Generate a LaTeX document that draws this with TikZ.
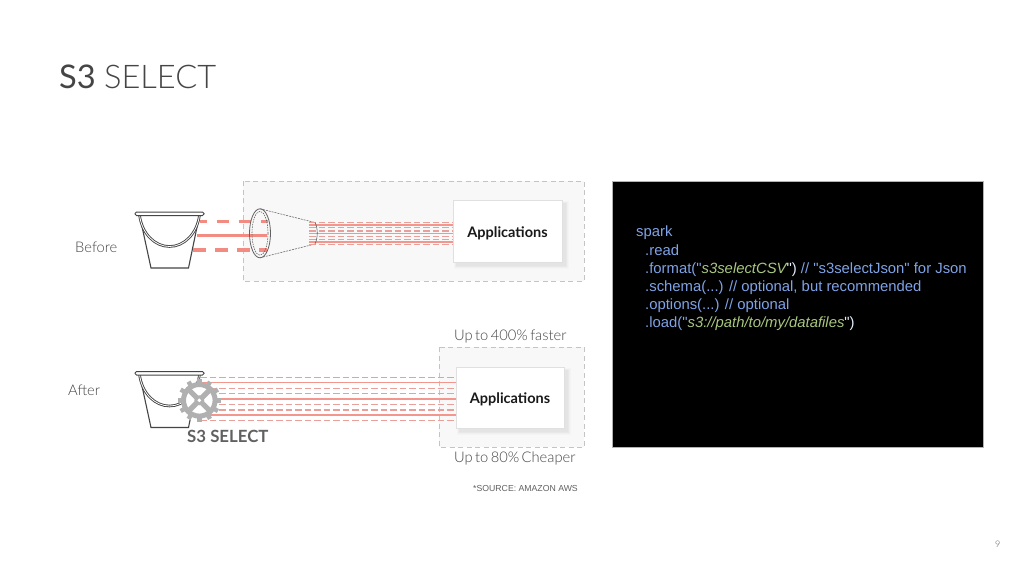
\documentclass[tikz,border=0pt]{standalone}
\usepackage{fontspec}
\setmainfont{Lato}
\newfontfamily\lite[WordSpace=0.6]{Lato Light}
\newfontfamily\arial{Liberation Sans}
\definecolor{salmon}{HTML}{F28B82}
\definecolor{softline}{HTML}{E8A09B}
\definecolor{ink}{HTML}{454545}
\definecolor{dashgray}{HTML}{C4C4C4}
\definecolor{panel}{HTML}{F8F8F8}
\definecolor{gearc}{HTML}{B0B0B0}
\definecolor{codeblue}{HTML}{7FA3E6}
\definecolor{codegreen}{HTML}{A9C77F}
\tikzset{
  x=1pt,y=-1pt,
  dashbox/.style={draw=dashgray,fill=panel,dash pattern=on 5pt off 3.5pt,line width=1pt},
  appbox/.style={draw=black!12,fill=white,line width=1pt,font=\fontsize{14.5}{16}\selectfont\bfseries,text=black!90,inner sep=0pt,text depth=0pt},
  fat/.style={draw=salmon,line width=3.4pt},
  fatd/.style={fat,dash pattern=on 12.5pt off 9.5pt},
  thinline/.style={draw=salmon!90!white,line width=1.1pt},
  thind/.style={draw=softline,line width=1.1pt,dash pattern=on 6.5pt off 3pt},
  lbl/.style={anchor=base west,inner sep=0pt,text=ink,font=\fontsize{14.7}{17}\selectfont\lite},
  bucket/.style={draw=ink,line width=1.1pt},
  codeline/.style={anchor=base west,inner sep=0pt,text=codeblue,font=\fontsize{14.85}{16}\selectfont\arial},
}
\newcommand{\shad}[4]{\foreach \k in {1,...,5}{\fill[black,opacity=.016] (#1+4-\k*.6,#2+4-\k*.6) rectangle (#3+3+\k*.8,#4+3+\k*.8);}}
\newcommand{\bucketat}[2]{%
  \begin{scope}[shift={(#1,#2)}]
    \draw[bucket,fill=white] (4.5,3) -- (16,56) -- (53.5,56) -- (64.5,3);
    \draw[bucket,line width=2.6pt] (4.5,3) .. controls (7,22) and (20,34.5) .. (34.5,34.5) .. controls (49,34.5) and (62,22) .. (64.5,3);
    \draw[white,line width=.8pt] (4.5,3) .. controls (7,22) and (20,34.5) .. (34.5,34.5) .. controls (49,34.5) and (62,22) .. (64.5,3);
    \draw[draw=ink,fill=white,line width=1pt,rounded corners=1.5pt] (0,0) rectangle (69,3.5);
  \end{scope}}
\begin{document}
\begin{tikzpicture}
\useasboundingbox (0,0) rectangle (1024,576);
\fill[white] (0,0) rectangle (1024,576);
% title
\node[anchor=base west,inner sep=0pt,text=ink,font=\fontsize{32.6}{36}\selectfont] (title) at (59,88) {S3 {\lite SELECT}};
% panels
\draw[dashbox] (243,181) rectangle (584,281);
\draw[dashbox] (439,347) rectangle (584,447);
\node[lbl] (before) at (75,252) {Before};
\node[lbl] (after) at (68,395) {After};
\node[lbl] (faster) at (454,340) {Up to 400\% faster};
\node[lbl] (cheaper) at (454,462) {Up to 80\% Cheaper};
\node[anchor=base west,inner sep=0pt,text=ink!85,font=\fontsize{8.7}{10}\selectfont\arial] (source) at (473,491) {*SOURCE: AMAZON AWS};
\node[anchor=base west,inner sep=0pt,text=black!65,font=\fontsize{9}{10}\selectfont\lite] (page) at (995,547) {9};
% before
\bucketat{135}{212}
\coordinate (b1a) at (200,221.7); \coordinate (b1b) at (268,221.7);
\coordinate (b2a) at (197,235.3); \coordinate (b2b) at (267,235.3);
\coordinate (b3a) at (193,250); \coordinate (b3b) at (267,250);
\draw[fatd,dash phase=5.5pt] (b1a) -- (b1b);
\draw[fat] (b2a) -- (b2b);
\draw[fatd] (b3a) -- (b3b);
\draw[ink!85,line width=.8pt] (260,233.3) ellipse [x radius=10.5,y radius=24.5];
\draw[ink!85,line width=.6pt,dash pattern=on 1.5pt off 1pt] (260,233.3) ellipse [x radius=8,y radius=22];
\draw[ink!80,line width=.6pt,dash pattern=on 2pt off 1pt] (260,208.8) -- (315,222.5);
\draw[ink!80,line width=.6pt,dash pattern=on 2pt off 1pt] (260,257.8) -- (315,244);
\foreach \yy in {225,233.5,242}{\draw[thinline] (309,\yy) -- (453,\yy);}
\foreach \yy in {222.7,227.7,231,236.5,239.5,244.5}{\draw[thind] (309,\yy) -- (453,\yy);}
\draw[ink!85,line width=.6pt] (315,222.5) .. controls (318,228) and (318,238) .. (315,244);
\shad{453}{200}{562}{262}
\node[appbox,minimum width=109pt,minimum height=62pt] (app1) at (507.5,231) {\raisebox{-1.4pt}{Applications}};
% after
\bucketat{135}{371.5}
\foreach \yy in {382.7,399,415}{\draw[thinline] (200,\yy) -- (456,\yy);}
\foreach \yy in {377.7,388.3,393.7,404.3,410,420.3}{\draw[thind] (200,\yy) -- (456,\yy);}
\shad{456}{367}{564}{428}
\node[appbox,minimum width=108pt,minimum height=61pt] (app2) at (510,397.5) {\raisebox{-1.4pt}{Applications}};
% gear
\begin{scope}[shift={(199.3,400.3)}]
  \fill[white] (0,0) circle [radius=15];
  \foreach \a in {0,30,...,330}{\draw[gearc,line width=4.4pt] (\a:16) -- (\a:21.5);}
  \draw[gearc,line width=5pt] (0,0) circle [radius=15.8];
  \foreach \a in {45,135,225,315}{\draw[gearc,line width=5.2pt] (0,0) -- (\a:15);}
  \fill[gearc] (0,0) circle [radius=5];
  \fill[white] (0,0) circle [radius=1.9];
\end{scope}
\node[anchor=base west,inner sep=0pt,text=ink!85,font=\fontsize{16.8}{19}\selectfont\bfseries] (s3sel) at (187,442) {S3 SELECT};
% code
\draw[draw=black!30,fill=black,line width=1pt] (612,181) rectangle (983,447);
\node[codeline] (c1) at (636,236) {spark};
\node[codeline] (c2) at (645,255) {.read};
\node[codeline] (c3) at (645,273) {.format("\textcolor{codegreen}{\itshape s3selectCSV}\textcolor{white!80!codeblue}{")} // "s3selectJson" for Json};
\node[codeline] (c4) at (645,291) {.schema(...) // optional, but recommended};
\node[codeline] (c5) at (645,309) {.options(...) // optional};
\node[codeline] (c6) at (645,327) {.load("\textcolor{codegreen}{\itshape s3://path/to/my/datafiles}\textcolor{white!80!codeblue}{")}};
\end{tikzpicture}
\end{document}
